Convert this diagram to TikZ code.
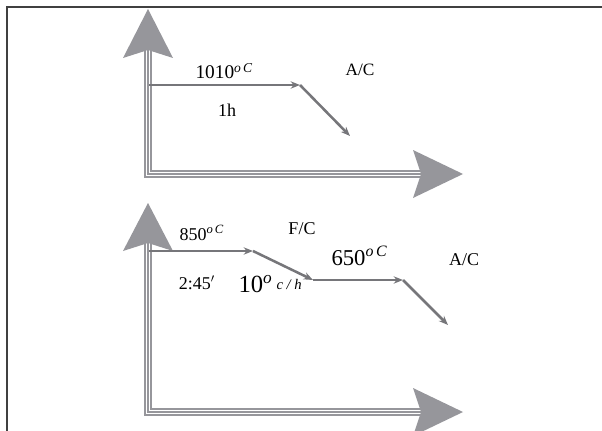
\documentclass[tikz,border=0pt]{standalone}
\usepackage{fontspec}
\setmainfont{Liberation Serif}
\usetikzlibrary{arrows.meta}

\definecolor{axgray}{RGB}{150,150,155}
\definecolor{lngray}{RGB}{118,118,122}

\tikzset{every picture/.style={line width=0.75pt}}
\tikzset{
  axis/.style={draw=axgray, line width=5.4pt, line join=miter,
    postaction={draw=white, line width=3.3pt},
    postaction={draw=axgray, line width=1.1pt}},
  axhead/.style={fill=axgray, draw=none},
  seg/.style={draw=lngray, line width=1.9pt, -{Stealth[length=7pt,width=5.5pt]}},
  lbl/.style={inner sep=0.75pt},
}
\newcommand{\degsup}[1]{\textsuperscript{\textit{o}\,\textit{#1}}}

\begin{document}
\begin{tikzpicture}[x=0.75pt,y=0.75pt,yscale=-1,xscale=1]
\useasboundingbox (0,0) rectangle (602,431);

%Frame
\draw [draw=black!75, line width=1.1pt] (7,431) -- (7,7) -- (602,7) ;

%Upper axes
\coordinate (o1) at (148,174);
\coordinate (yt1) at (148,9);
\coordinate (xt1) at (463,174);
\draw [axis] (148,50) -- (o1) -- (421,174) ;
\fill [axhead] (yt1) -- ++(25,49) -- ++(-25,-8) -- ++(-25,8) -- cycle ;
\fill [axhead] (xt1) -- ++(-50,24) -- ++(8,-24) -- ++(-8,-24) -- cycle ;

%Lower axes
\coordinate (o2) at (148,412);
\coordinate (yt2) at (148,203);
\coordinate (xt2) at (463,412);
\draw [axis] (148,243) -- (o2) -- (421,412) ;
\fill [axhead] (yt2) -- ++(25,48) -- ++(-25,-8) -- ++(-25,8) -- cycle ;
\fill [axhead] (xt2) -- ++(-50,24) -- ++(8,-24) -- ++(-8,-24) -- cycle ;

%Upper profile
\coordinate (a0) at (149,85);
\coordinate (a1) at (300,85);
\coordinate (a2) at (350,136);
\draw [seg] (a0) -- (a1) ;
\draw [seg] (a1) -- (a2) ;

%Lower profile
\coordinate (b0) at (149,251);
\coordinate (b1) at (253,251);
\coordinate (b2) at (313,280);
\coordinate (b3) at (403,280);
\coordinate (b4) at (448,325);
\draw [seg] (b0) -- (b1) ;
\draw [seg] (b1) -- (b2) ;
\draw [seg] (b2) -- (b3) ;
\draw [seg] (b3) -- (b4) ;

% Text Node
\node [lbl, anchor=base west, font=\fontsize{14.5}{16}\selectfont] (t1010) at (194,79) {1010\degsup{C}};
% Text Node
\node [lbl, font=\fontsize{13}{15}\selectfont] (tac1) at (360,70) {A/C};
% Text Node
\node [lbl, font=\fontsize{13.5}{15}\selectfont] (t1h) at (227,110) {1h};
% Text Node
\node [lbl, anchor=base west, font=\fontsize{13.5}{15}\selectfont] (t850) at (178,240) {850\degsup{C}};
% Text Node
\node [lbl, font=\fontsize{13.5}{15}\selectfont] (tfc) at (302,229) {F/C};
% Text Node
\node [lbl, anchor=base west, font=\fontsize{17}{19}\selectfont] (t650) at (330,265) {650\degsup{C}};
% Text Node
\node [lbl, font=\fontsize{13.5}{15}\selectfont] (tac2) at (464,260) {A/C};
% Text Node
\node [lbl, font=\fontsize{13.5}{15}\selectfont] (t245) at (197,283) {2:45$'$};
% Text Node
\node [lbl, anchor=base west, font=\fontsize{18.5}{20}\selectfont] (trate) at (237,292) {10\textsuperscript{\textit{o}}\,{\fontsize{11}{12}\selectfont\raisebox{0.35ex}{\textit{c / h}}}};

\end{tikzpicture}
\end{document}
